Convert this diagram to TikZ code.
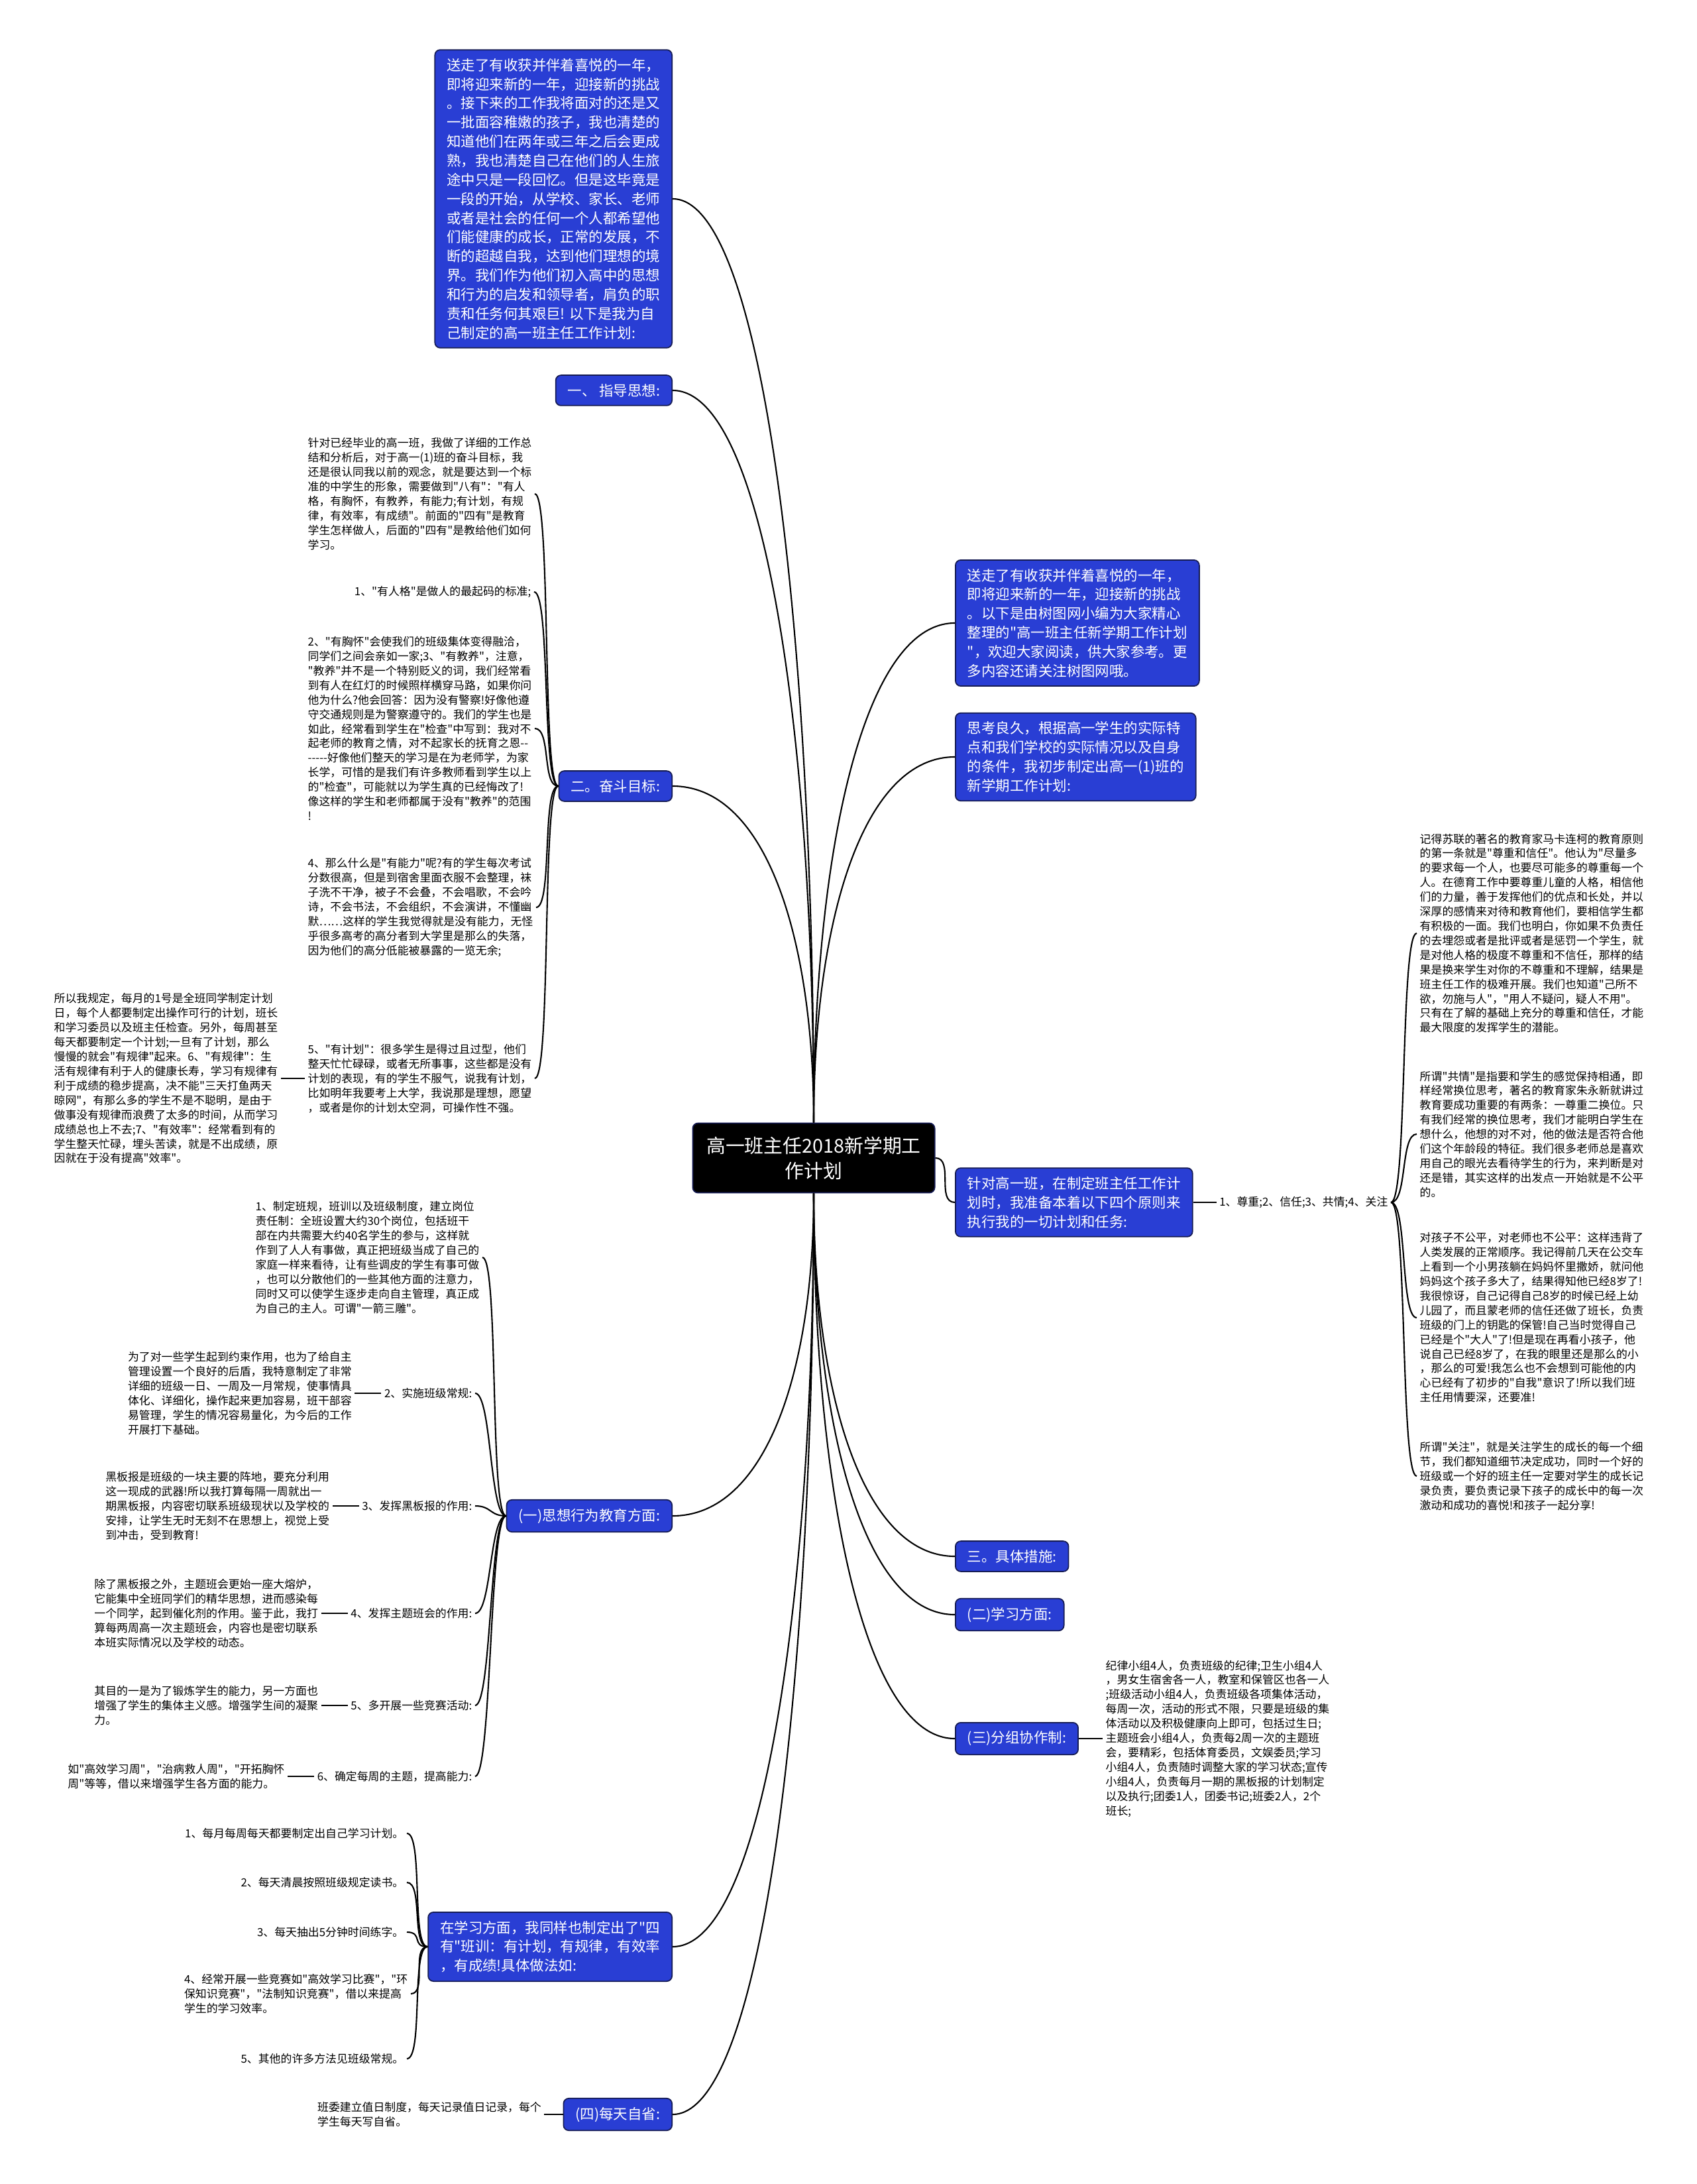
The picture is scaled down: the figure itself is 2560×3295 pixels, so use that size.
\documentclass[tikz,border=0pt]{standalone}
\usepackage{fontspec}
\newfontfamily\cjk{Noto Sans CJK SC}
\usetikzlibrary{positioning}

\definecolor{boxblue}{RGB}{41,62,212}
\definecolor{boxedge}{RGB}{22,28,84}
\newcommand\leaffont{\cjk\fontsize{4.8}{6.23}\selectfont}
\newcommand\topicfont{\cjk\fontsize{6.1}{8.2}\selectfont}
\newcommand\rootfont{\cjk\fontsize{8.2}{10.8}\selectfont}
\newcommand\mydash{-\kern0pt}

\tikzset{
  rootbox/.style={draw=boxedge, fill=black, text=white, rounded corners=0.08cm, align=center,
    font=\rootfont, minimum width=3.65cm, minimum height=1.05cm, line width=0.5pt},
  topicbox/.style={draw=boxedge, fill=boxblue, text=white, rounded corners=0.08cm, align=left,
    font=\topicfont, inner xsep=0.18cm, inner ysep=0.13cm, line width=0.5pt},
  leaftext/.style={align=left, font=\leaffont, inner sep=0.04cm},
  twig/.style={line width=0.6pt},
  upleft/.style={out=90, in=0, out looseness=1.3, in distance=1.4cm},
  downleft/.style={out=-90, in=0, out looseness=1.3, in distance=1.4cm},
  upright/.style={out=90, in=180, out looseness=1.3, in distance=1.4cm},
  downright/.style={out=-90, in=180, out looseness=1.3, in distance=1.4cm},
  fanleft/.style={out=180, in=0, out distance=0.25cm, in distance=0.25cm},
  fanright/.style={out=0, in=180, out distance=0.25cm, in distance=0.25cm}
}

\begin{document}
\begin{tikzpicture}[x=0.01cm, y=-0.01cm]
  \fill[white] (0,0) rectangle (2560,3295);

  % centre
  \node[rootbox] (root) at (1228,1747) {高一班主任2018新学期工\\作计划};

  % left topics
  \node[topicbox, anchor=east] (intro) at (1015,300) {送走了有收获并伴着喜悦的一年，\\即将迎来新的一年，迎接新的挑战\\。接下来的工作我将面对的还是又\\一批面容稚嫩的孩子，我也清楚的\\知道他们在两年或三年之后会更成\\熟，我也清楚自己在他们的人生旅\\途中只是一段回忆。但是这毕竟是\\一段的开始，从学校、家长、老师\\或者是社会的任何一个人都希望他\\们能健康的成长，正常的发展，不\\断的超越自我，达到他们理想的境\\界。我们作为他们初入高中的思想\\和行为的启发和领导者，肩负的职\\责和任务何其艰巨! 以下是我为自\\己制定的高一班主任工作计划:};
  \node[topicbox, anchor=east] (guide) at (1015,589) {一、 指导思想:};
  \node[topicbox, anchor=east] (goal) at (1015,1186) {二。奋斗目标:};
  \node[topicbox, anchor=east] (moral) at (1015,2287) {(一)思想行为教育方面:};
  \node[topicbox, anchor=east] (study) at (1015,2937) {在学习方面，我同样也制定出了"四\\有"班训：有计划，有规律，有效率\\，有成绩!具体做法如:};
  \node[topicbox, anchor=east] (daily) at (1015,3190) {(四)每天自省:};

  % right topics
  \node[topicbox, anchor=west] (welcome) at (1441,940) {送走了有收获并伴着喜悦的一年，\\即将迎来新的一年，迎接新的挑战\\。以下是由树图网小编为大家精心\\整理的"高一班主任新学期工作计划\\"，欢迎大家阅读，供大家参考。更\\多内容还请关注树图网哦。};
  \node[topicbox, anchor=west] (think) at (1441,1142) {思考良久，根据高一学生的实际特\\点和我们学校的实际情况以及自身\\的条件，我初步制定出高一(1)班的\\新学期工作计划:};
  \node[topicbox, anchor=west] (principle) at (1441,1814) {针对高一班，在制定班主任工作计\\划时，我准备本着以下四个原则来\\执行我的一切计划和任务:};
  \node[topicbox, anchor=west] (measure) at (1441,2348) {三。具体措施:};
  \node[topicbox, anchor=west] (learn) at (1441,2436) {(二)学习方面:};
  \node[topicbox, anchor=west] (group) at (1441,2623) {(三)分组协作制:};

  % goal leaves
  \node[leaftext, anchor=west] (g1) at (460,745) {针对已经毕业的高一班，我做了详细的工作总\\结和分析后，对于高一(1)班的奋斗目标，我\\还是很认同我以前的观念，就是要达到一个标\\准的中学生的形象，需要做到"八有"："有人\\格，有胸怀，有教养，有能力;有计划，有规\\律，有效率，有成绩"。前面的"四有"是教育\\学生怎样做人，后面的"四有"是教给他们如何\\学习。};
  \node[leaftext, anchor=east] (g2) at (806,893) {1、"有人格"是做人的最起码的标准;};
  \node[leaftext, anchor=west] (g3) at (460,1099) {2、"有胸怀"会使我们的班级集体变得融洽，\\同学们之间会亲如一家;3、"有教养"，注意，\\"教养"并不是一个特别贬义的词，我们经常看\\到有人在红灯的时候照样横穿马路，如果你问\\他为什么?他会回答：因为没有警察!好像他遵\\守交通规则是为警察遵守的。我们的学生也是\\如此，经常看到学生在"检查"中写到：我对不\\起老师的教育之情，对不起家长的抚育之恩\mydash\mydash\\\mydash\mydash\mydash\mydash\mydash 好像他们整天的学习是在为老师学，为家\\长学，可惜的是我们有许多教师看到学生以上\\的"检查"，可能就以为学生真的已经悔改了!\\像这样的学生和老师都属于没有"教养"的范围\\!};
  \node[leaftext, anchor=west] (g4) at (460,1369) {4、那么什么是"有能力"呢?有的学生每次考试\\分数很高，但是到宿舍里面衣服不会整理，袜\\子洗不干净，被子不会叠，不会唱歌，不会吟\\诗，不会书法，不会组织，不会演讲，不懂幽\\默……这样的学生我觉得就是没有能力，无怪\\乎很多高考的高分者到大学里是那么的失落，\\因为他们的高分低能被暴露的一览无余;};
  \node[leaftext, anchor=west] (g5) at (460,1627) {5、"有计划"：很多学生是得过且过型，他们\\整天忙忙碌碌，或者无所事事，这些都是没有\\计划的表现，有的学生不服气，说我有计划，\\比如明年我要考上大学，我说那是理想，愿望\\，或者是你的计划太空洞，可操作性不强。};
  \node[leaftext, left=0.36cm of g5] (g5a) {所以我规定，每月的1号是全班同学制定计划\\日，每个人都要制定出操作可行的计划，班长\\和学习委员以及班主任检查。另外，每周甚至\\每天都要制定一个计划;一旦有了计划，那么\\慢慢的就会"有规律"起来。6、"有规律"：生\\活有规律有利于人的健康长寿，学习有规律有\\利于成绩的稳步提高，决不能"三天打鱼两天\\晾网"，有那么多的学生不是不聪明，是由于\\做事没有规律而浪费了太多的时间，从而学习\\成绩总也上不去;7、"有效率"：经常看到有的\\学生整天忙碌，埋头苦读，就是不出成绩，原\\因就在于没有提高"效率"。};

  % moral leaves
  \node[leaftext, anchor=west] (m1) at (381,1897) {1、制定班规，班训以及班级制度，建立岗位\\责任制：全班设置大约30个岗位，包括班干\\部在内共需要大约40名学生的参与，这样就\\作到了人人有事做，真正把班级当成了自己的\\家庭一样来看待，让有些调皮的学生有事可做\\，也可以分散他们的一些其他方面的注意力，\\同时又可以使学生逐步走向自主管理，真正成\\为自己的主人。可谓"一箭三雕"。};
  \node[leaftext, anchor=east] (m2) at (717,2102) {2、实施班级常规:};
  \node[leaftext, left=0.4cm of m2] (m2a) {为了对一些学生起到约束作用，也为了给自主\\管理设置一个良好的后盾，我特意制定了非常\\详细的班级一日、一周及一月常规，使事情具\\体化、详细化，操作起来更加容易，班干部容\\易管理，学生的情况容易量化，为今后的工作\\开展打下基础。};
  \node[leaftext, anchor=east] (m3) at (717,2272) {3、发挥黑板报的作用:};
  \node[leaftext, left=0.4cm of m3] (m3a) {黑板报是班级的一块主要的阵地，要充分利用\\这一现成的武器!所以我打算每隔一周就出一\\期黑板报，内容密切联系班级现状以及学校的\\安排，让学生无时无刻不在思想上，视觉上受\\到冲击，受到教育!};
  \node[leaftext, anchor=east] (m4) at (717,2434) {4、发挥主题班会的作用:};
  \node[leaftext, left=0.4cm of m4] (m4a) {除了黑板报之外，主题班会更始一座大熔炉，\\它能集中全班同学们的精华思想，进而感染每\\一个同学，起到催化剂的作用。鉴于此，我打\\算每两周高一次主题班会，内容也是密切联系\\本班实际情况以及学校的动态。};
  \node[leaftext, anchor=east] (m5) at (717,2573) {5、多开展一些竞赛活动:};
  \node[leaftext, left=0.4cm of m5] (m5a) {其目的一是为了锻炼学生的能力，另一方面也\\增强了学生的集体主义感。增强学生间的凝聚\\力。};
  \node[leaftext, anchor=east] (m6) at (717,2680) {6、确定每周的主题，提高能力:};
  \node[leaftext, left=0.4cm of m6] (m6a) {如"高效学习周"，"治病救人周"，"开拓胸怀\\周"等等，借以来增强学生各方面的能力。};

  % study leaves
  \node[leaftext, anchor=east] (s1) at (614,2766) {1、每月每周每天都要制定出自己学习计划。};
  \node[leaftext, anchor=east] (s2) at (614,2840) {2、每天清晨按照班级规定读书。};
  \node[leaftext, anchor=east] (s3) at (614,2915) {3、每天抽出5分钟时间练字。};
  \node[leaftext, anchor=east] (s4) at (620,3008) {4、经常开展一些竞赛如"高效学习比赛"，"环\\保知识竞赛"，"法制知识竞赛"，借以来提高\\学生的学习效率。};
  \node[leaftext, anchor=east] (s5) at (614,3106) {5、其他的许多方法见班级常规。};
  \node[leaftext, left=0.28cm of daily] (d1) {班委建立值日制度，每天记录值日记录，每个\\学生每天写自省。};

  % principle leaves
  \node[leaftext, right=0.35cm of principle] (plabel) {1、尊重;2、信任;3、共情;4、关注};
  \node[leaftext, anchor=west] (r1) at (2138,1408) {记得苏联的著名的教育家马卡连柯的教育原则\\的第一条就是"尊重和信任"。他认为"尽量多\\的要求每一个人，也要尽可能多的尊重每一个\\人。在德育工作中要尊重儿童的人格，相信他\\们的力量，善于发挥他们的优点和长处，并以\\深厚的感情来对待和教育他们，要相信学生都\\有积极的一面。我们也明白，你如果不负责任\\的去埋怨或者是批评或者是惩罚一个学生，就\\是对他人格的极度不尊重和不信任，那样的结\\果是换来学生对你的不尊重和不理解，结果是\\班主任工作的极难开展。我们也知道"己所不\\欲，勿施与人"，"用人不疑问，疑人不用"。\\只有在了解的基础上充分的尊重和信任，才能\\最大限度的发挥学生的潜能。};
  \node[leaftext, anchor=west] (r2) at (2138,1711) {所谓"共情"是指要和学生的感觉保持相通，即\\样经常换位思考，著名的教育家朱永新就讲过\\教育要成功重要的有两条：一尊重二换位。只\\有我们经常的换位思考，我们才能明白学生在\\想什么，他想的对不对，他的做法是否符合他\\们这个年龄段的特征。我们很多老师总是喜欢\\用自己的眼光去看待学生的行为，来判断是对\\还是错，其实这样的出发点一开始就是不公平\\的。};
  \node[leaftext, anchor=west] (r3) at (2138,1988) {对孩子不公平，对老师也不公平：这样违背了\\人类发展的正常顺序。我记得前几天在公交车\\上看到一个小男孩躺在妈妈怀里撒娇，就问他\\妈妈这个孩子多大了，结果得知他已经8岁了!\\我很惊讶，自己记得自己8岁的时候已经上幼\\儿园了，而且蒙老师的信任还做了班长，负责\\班级的门上的钥匙的保管!自己当时觉得自己\\已经是个"大人"了!但是现在再看小孩子，他\\说自己已经8岁了，在我的眼里还是那么的小\\，那么的可爱!我怎么也不会想到可能他的内\\心已经有了初步的"自我"意识了!所以我们班\\主任用情要深，还要准!};
  \node[leaftext, anchor=west] (r4) at (2138,2227) {所谓"关注"，就是关注学生的成长的每一个细\\节，我们都知道细节决定成功，同时一个好的\\班级或一个好的班主任一定要对学生的成长记\\录负责，要负责记录下孩子的成长中的每一次\\激动和成功的喜悦!和孩子一起分享!};

  % group leaf
  \node[leaftext, right=0.36cm of group] (g6) {纪律小组4人，负责班级的纪律;卫生小组4人\\，男女生宿舍各一人，教室和保管区也各一人\\;班级活动小组4人，负责班级各项集体活动，\\每周一次，活动的形式不限，只要是班级的集\\体活动以及积极健康向上即可，包括过生日;\\主题班会小组4人，负责每2周一次的主题班\\会，要精彩，包括体育委员，文娱委员;学习\\小组4人，负责随时调整大家的学习状态;宣传\\小组4人，负责每月一期的黑板报的计划制定\\以及执行;团委1人，团委书记;班委2人，2个\\班长;};

  % trunk
  \draw[twig, upleft] (root.north) to (intro.east);
  \draw[twig, upleft] (root.north) to (guide.east);
  \draw[twig, upleft] (root.north) to (goal.east);
  \draw[twig, downleft] (root.south) to (moral.east);
  \draw[twig, downleft] (root.south) to (study.east);
  \draw[twig, downleft] (root.south) to (daily.east);
  \draw[twig, upright] (root.north) to (welcome.west);
  \draw[twig, upright] (root.north) to (think.west);
  \draw[twig] (root.east) to[out=0, in=180] (principle.west);
  \draw[twig, downright] (root.south) to (measure.west);
  \draw[twig, downright] (root.south) to (learn.west);
  \draw[twig, downright] (root.south) to (group.west);

  % branches
  \draw[twig, fanleft] (goal.west) to (g1.east);
  \draw[twig, fanleft] (goal.west) to (g2.east);
  \draw[twig, fanleft] (goal.west) to (g3.east);
  \draw[twig, fanleft] (goal.west) to (g4.east);
  \draw[twig, fanleft] (goal.west) to (g5.east);
  \draw[twig] (g5.west) -- (g5a.east);

  \draw[twig, fanleft] (moral.west) to (m1.east);
  \draw[twig, fanleft] (moral.west) to (m2.east);
  \draw[twig, fanleft] (moral.west) to (m3.east);
  \draw[twig, fanleft] (moral.west) to (m4.east);
  \draw[twig, fanleft] (moral.west) to (m5.east);
  \draw[twig, fanleft] (moral.west) to (m6.east);
  \draw[twig] (m2.west) -- (m2a.east);
  \draw[twig] (m3.west) -- (m3a.east);
  \draw[twig] (m4.west) -- (m4a.east);
  \draw[twig] (m5.west) -- (m5a.east);
  \draw[twig] (m6.west) -- (m6a.east);

  \draw[twig, fanleft] (study.west) to (s1.east);
  \draw[twig, fanleft] (study.west) to (s2.east);
  \draw[twig, fanleft] (study.west) to (s3.east);
  \draw[twig, fanleft] (study.west) to (s4.east);
  \draw[twig, fanleft] (study.west) to (s5.east);
  \draw[twig] (daily.west) -- (d1.east);

  \draw[twig] (principle.east) -- (plabel.west);
  \draw[twig, fanright] (plabel.east) to (r1.west);
  \draw[twig, fanright] (plabel.east) to (r2.west);
  \draw[twig, fanright] (plabel.east) to (r3.west);
  \draw[twig, fanright] (plabel.east) to (r4.west);
  \draw[twig] (group.east) -- (g6.west);

  \useasboundingbox (0,0) rectangle (2560,3295);
\end{tikzpicture}
\end{document}
